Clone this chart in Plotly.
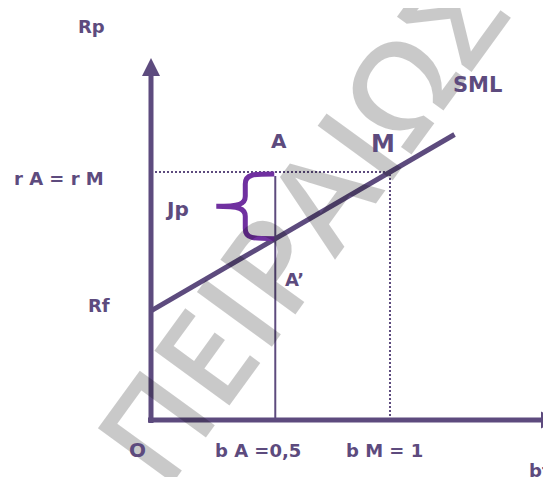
import plotly.graph_objects as go

# ---- data (schematic units: beta on x, expected return on y) ----
rf = 0.44            # risk-free rate (intercept of SML)
r_m = 1.0            # market return = r A
beta_m = 1.0         # b M = 1
beta_a = 0.52        # b A = 0,5 (position of A on the schematic)
beta_end = 1.27      # end of SML segment
sml_x = [0.0, beta_end]
sml_y = [rf, rf + (r_m - rf) / beta_m * beta_end]
a_prime = rf + (r_m - rf) / beta_m * beta_a

PURPLE = "#5D4B7E"
BRACE = "#7030A0"
FONT = "DejaVu Sans"

# page offset of the plot div (browser body margin)
OFF = 8
W, H = 551 - OFF, 477 - OFF
# pixel->data scale (px per unit); origin at page px (151, 420)
SX, SY = 239.0, 248.0
xr = [-(151 - OFF) / SX, (W - (151 - OFF)) / SX]
yr = [-(H - (420 - OFF)) / SY, (420 - OFF) / SY]

fig = go.Figure()

# dotted guides
fig.add_trace(go.Scatter(x=[0, beta_m], y=[r_m, r_m], mode="lines",
                         line=dict(color=PURPLE, width=2, dash="2px,2px"), hoverinfo="skip"))
fig.add_trace(go.Scatter(x=[beta_m, beta_m], y=[0, r_m], mode="lines",
                         line=dict(color=PURPLE, width=2, dash="2px,2px"), hoverinfo="skip"))
# vertical line at beta A
fig.add_trace(go.Scatter(x=[beta_a, beta_a], y=[0, r_m - 4 / SY], mode="lines",
                         line=dict(color=PURPLE, width=2), hoverinfo="skip"))
# SML
fig.add_trace(go.Scatter(x=sml_x, y=sml_y, mode="lines",
                         line=dict(color=PURPLE, width=5), hoverinfo="skip"))

shapes = []
# axes
shapes.append(dict(type="line", x0=0, x1=0, y0=-3 / SY, y1=345 / SY,
                   line=dict(color=PURPLE, width=5)))
shapes.append(dict(type="line", x0=-3 / SX, x1=392 / SX, y0=0, y1=0,
                   line=dict(color=PURPLE, width=5)))
# arrow heads
yt, yb, hw = 362 / SY, 344 / SY, 9 / SX
shapes.append(dict(type="path", path=f"M {-hw},{yb} L 0,{yt} L {hw},{yb} Z",
                   fillcolor=PURPLE, line=dict(color=PURPLE, width=0)))
xt, xb, hh = 407 / SX, 390 / SX, 8.5 / SY
shapes.append(dict(type="path", path=f"M {xb},{-hh} L {xt},0 L {xb},{hh} Z",
                   fillcolor=PURPLE, line=dict(color=PURPLE, width=0)))

# curly brace between r A and A'
top, bot = r_m - 2 / SY, a_prime
mid = (top + bot) / 2
xR = beta_a - 1 / SX
xs = beta_a - 30 / SX
xtip = beta_a - 59 / SX
dx = 1 / SX
dy = 1 / SY
p = (f"M {xR},{top} "
     f"C {xs+8*dx},{top} {xs},{top} {xs},{top-10*dy} "
     f"L {xs},{mid+10*dy} "
     f"C {xs},{mid+2*dy} {xs-6*dx},{mid} {xtip},{mid} "
     f"C {xs-6*dx},{mid} {xs},{mid-2*dy} {xs},{mid-10*dy} "
     f"L {xs},{bot+10*dy} "
     f"C {xs},{bot} {xs+8*dx},{bot} {xR},{bot}")
shapes.append(dict(type="path", path=p, line=dict(color=BRACE, width=5)))

annotations = []
# watermark
annotations.append(dict(text="ΠΕΙΡΑΙΩΣ", x=(298 - 151) / SX, y=(420 - 224) / SY,
                        xref="x", yref="y", showarrow=False, textangle=-54,
                        font=dict(family="Open Sans", size=130, weight=600,
                                  color="rgba(0,0,0,0.21)")))


def lab(t, px, py, size=18):
    annotations.append(dict(text=t, x=(px - 151) / SX, y=(420 - py) / SY, xref="x", yref="y",
                            showarrow=False, font=dict(family=FONT, size=size, color=PURPLE, weight="bold")))


lab("Rp", 91, 26, 18)
lab("r A = r M", 59, 178, 18)
lab("A", 279, 141, 20)
lab("M", 383, 144, 24)
lab("SML", 477, 85, 21)
lab("Jp", 177, 209, 20)
lab("A\u2019", 294, 279, 18)
lab("Rf", 99, 305, 18)
lab("O", 137, 450, 20)
lab("b A =0,5", 258, 450, 18)
lab("b M = 1", 384, 450, 18)
lab("bt", 540, 470, 18)

fig.update_layout(
    width=W, height=H, margin=dict(l=0, r=0, t=0, b=0),
    paper_bgcolor="white", plot_bgcolor="white", showlegend=False,
    xaxis=dict(range=xr, visible=False, fixedrange=True),
    yaxis=dict(range=yr, visible=False, fixedrange=True),
    shapes=shapes, annotations=annotations,
)
fig.write_html("out.html")
